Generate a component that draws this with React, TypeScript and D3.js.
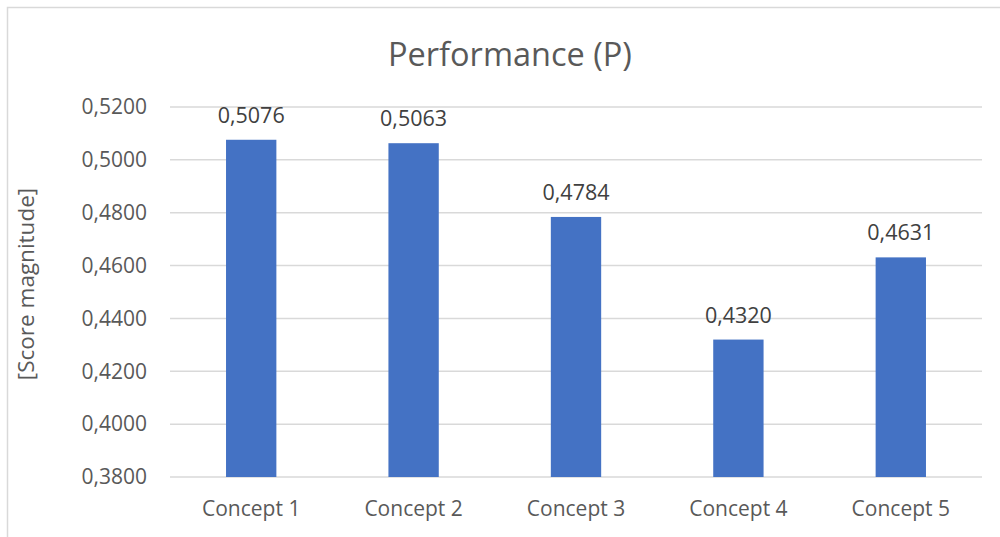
import React from "react";
import * as d3 from "d3";

const categories = ["Concept 1", "Concept 2", "Concept 3", "Concept 4", "Concept 5"];
const values = [0.5076, 0.5063, 0.4784, 0.432, 0.4631];
const yTicks = [0.38, 0.4, 0.42, 0.44, 0.46, 0.48, 0.5, 0.52];
const title = "Performance (P)";
const yTitle = "[Score magnitude]";

const W = 1000;
const H = 537;
const M = { left: 170, right: 18, top: 107, bottom: 60 };
const FONT = "'Open Sans', 'Noto Sans', sans-serif";
const TXT = "#595959";
const GRID = "#d9d9d9";
const BAR = "#4472C4";

const fmt = (v: number) => v.toFixed(4).replace(".", ",");

export default function App() {
  const x = d3
    .scaleBand<string>()
    .domain(categories)
    .range([M.left, W - M.right])
    .paddingInner(0.69)
    .paddingOuter(0.345);
  const y = d3.scaleLinear().domain([0.38, 0.52]).range([H - M.bottom, M.top]);
  const band = d3.scaleBand<string>().domain(categories).range([M.left, W - M.right]);

  return (
    <svg width={W} height={H} style={{ position: "absolute", left: 0, top: 0, background: "#fff" }}>
      <rect x={7.5} y={7.5} width={W} height={H} fill="#fff" stroke={GRID} strokeWidth={1.5} />
      <text x={510} y={66} textAnchor="middle" fontFamily={FONT} fontSize={32.5} fill={TXT}>
        {title}
      </text>
      {yTicks.map((t) => (
        <g key={t}>
          <line x1={M.left} x2={W - M.right} y1={y(t)} y2={y(t)} stroke={GRID} strokeWidth={1.5} />
          <text x={147} y={y(t)} dy="0.35em" textAnchor="end" fontFamily={FONT} fontSize={21} fill={TXT}>
            {fmt(t)}
          </text>
        </g>
      ))}
      <text
        transform={`translate(34,${284}) rotate(-90)`}
        textAnchor="middle"
        fontFamily={FONT}
        fontSize={22.5}
        fill={TXT}
      >
        {yTitle}
      </text>
      {categories.map((c, i) => {
        const bx = x(c)!;
        const by = y(values[i]);
        const cx = band(c)! + band.bandwidth() / 2;
        return (
          <g key={c}>
            <rect x={bx} y={by} width={x.bandwidth()} height={y(0.38) - by} fill={BAR} />
            <text x={cx} y={by - 17} textAnchor="middle" fontFamily={FONT} fontSize={21.5} fill="#404040">
              {fmt(values[i])}
            </text>
            <text x={cx} y={516} textAnchor="middle" fontFamily={FONT} fontSize={21} fill={TXT}>
              {c}
            </text>
          </g>
        );
      })}
    </svg>
  );
}
